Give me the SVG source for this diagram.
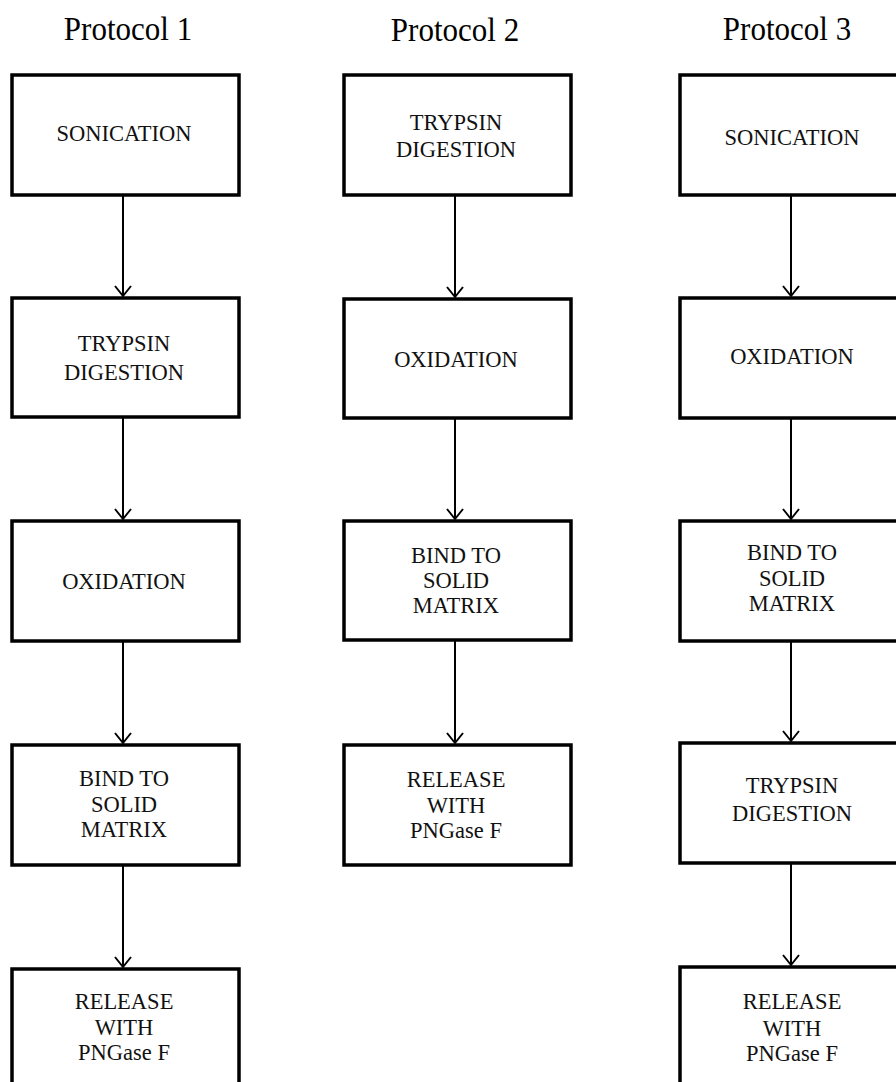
<svg xmlns="http://www.w3.org/2000/svg" width="896" height="1082" viewBox="0 0 896 1082">
<defs>
<style>
.box{fill:#fff;stroke:#000;stroke-width:3.5}
.t{font-family:"Liberation Serif","Times New Roman",serif;font-size:22.5px;fill:#111;text-anchor:middle}
.title{font-family:"Liberation Serif","Times New Roman",serif;font-size:31px;fill:#000;text-anchor:middle}
.arr{stroke:#000;stroke-width:2;fill:none;marker-end:url(#ah)}
</style>
<marker id="ah" viewBox="0 0 20 20" refX="18" refY="10" markerWidth="20" markerHeight="20" markerUnits="userSpaceOnUse" orient="auto">
<path d="M8,2 L18,10 L8,18" fill="none" stroke="#000" stroke-width="2"/>
</marker>
</defs>
<rect width="896" height="1082" fill="#fff"/>
<g id="titles">
<text class="title" transform="translate(128,40) scale(1,1.12)">Protocol 1</text>
<text class="title" transform="translate(455,41) scale(1,1.12)">Protocol 2</text>
<text class="title" transform="translate(787,40) scale(1,1.12)">Protocol 3</text>
</g>
<g id="connectors">
<line class="arr" x1="123" y1="196" x2="123" y2="296"/>
<line class="arr" x1="123" y1="418" x2="123" y2="519"/>
<line class="arr" x1="123" y1="642" x2="123" y2="743"/>
<line class="arr" x1="123" y1="866" x2="123" y2="967"/>
<line class="arr" x1="455" y1="196" x2="455" y2="297"/>
<line class="arr" x1="455" y1="419" x2="455" y2="519"/>
<line class="arr" x1="455" y1="641" x2="455" y2="743"/>
<line class="arr" x1="791" y1="196" x2="791" y2="296"/>
<line class="arr" x1="791" y1="419" x2="791" y2="519"/>
<line class="arr" x1="791" y1="642" x2="791" y2="741"/>
<line class="arr" x1="791" y1="864" x2="791" y2="965"/>
</g>
<g id="p1-sonication"><rect class="box" x="12" y="75" width="227" height="120"/><text class="t" x="124" y="141">SONICATION</text></g>
<g id="p1-trypsin"><rect class="box" x="12" y="298" width="227" height="119"/><text class="t" x="124" y="351">TRYPSIN</text><text class="t" x="124" y="380">DIGESTION</text></g>
<g id="p1-oxidation"><rect class="box" x="12" y="521" width="227" height="120"/><text class="t" x="124" y="589">OXIDATION</text></g>
<g id="p1-bind"><rect class="box" x="12" y="745" width="227" height="120"/><text class="t" x="124" y="786">BIND TO</text><text class="t" x="124" y="812">SOLID</text><text class="t" x="124" y="837">MATRIX</text></g>
<g id="p1-release"><rect class="box" x="12" y="969" width="227" height="125"/><text class="t" x="124" y="1009">RELEASE</text><text class="t" x="124" y="1035">WITH</text><text class="t" x="124" y="1060">PNGase F</text></g>

<g id="p2-trypsin"><rect class="box" x="344" y="75" width="227" height="120"/><text class="t" x="456" y="130">TRYPSIN</text><text class="t" x="456" y="157">DIGESTION</text></g>
<g id="p2-oxidation"><rect class="box" x="344" y="299" width="227" height="119"/><text class="t" x="456" y="367">OXIDATION</text></g>
<g id="p2-bind"><rect class="box" x="344" y="521" width="227" height="119"/><text class="t" x="456" y="563">BIND TO</text><text class="t" x="456" y="588">SOLID</text><text class="t" x="456" y="613">MATRIX</text></g>
<g id="p2-release"><rect class="box" x="344" y="745" width="227" height="120"/><text class="t" x="456" y="787">RELEASE</text><text class="t" x="456" y="813">WITH</text><text class="t" x="456" y="838">PNGase F</text></g>

<g id="p3-sonication"><rect class="box" x="680" y="75" width="227" height="120"/><text class="t" x="792" y="145">SONICATION</text></g>
<g id="p3-oxidation"><rect class="box" x="680" y="298" width="227" height="120"/><text class="t" x="792" y="364">OXIDATION</text></g>
<g id="p3-bind"><rect class="box" x="680" y="521" width="227" height="120"/><text class="t" x="792" y="560">BIND TO</text><text class="t" x="792" y="586">SOLID</text><text class="t" x="792" y="611">MATRIX</text></g>
<g id="p3-trypsin"><rect class="box" x="680" y="743" width="227" height="120"/><text class="t" x="792" y="793">TRYPSIN</text><text class="t" x="792" y="821">DIGESTION</text></g>
<g id="p3-release"><rect class="box" x="680" y="967" width="227" height="125"/><text class="t" x="792" y="1009">RELEASE</text><text class="t" x="792" y="1036">WITH</text><text class="t" x="792" y="1061">PNGase F</text></g>
</svg>
